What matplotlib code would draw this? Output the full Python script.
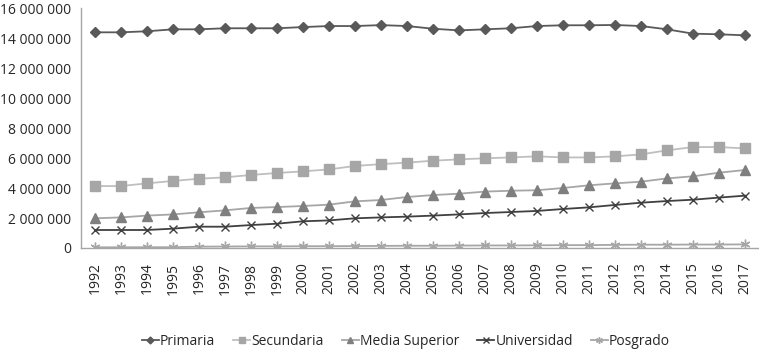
import matplotlib.pyplot as plt
import matplotlib.ticker as mticker
import numpy as np

plt.rcParams['font.family'] = ['Open Sans', 'DejaVu Sans']

years = list(range(1992, 2018))
primaria = [14.38, 14.38, 14.45, 14.58, 14.58, 14.65, 14.65, 14.65, 14.73, 14.80,
            14.80, 14.86, 14.80, 14.62, 14.51, 14.58, 14.65, 14.80, 14.85, 14.85,
            14.87, 14.80, 14.58, 14.29, 14.25, 14.18]
secundaria = [4.13, 4.13, 4.31, 4.47, 4.62, 4.71, 4.87, 5.00, 5.11, 5.24,
              5.47, 5.59, 5.69, 5.82, 5.91, 5.98, 6.04, 6.11, 6.04, 6.04,
              6.11, 6.24, 6.51, 6.73, 6.73, 6.64]
media_superior = [1.98, 2.04, 2.16, 2.24, 2.38, 2.51, 2.67, 2.73, 2.80, 2.89,
                  3.11, 3.20, 3.40, 3.53, 3.62, 3.76, 3.82, 3.85, 4.00, 4.18,
                  4.31, 4.42, 4.64, 4.78, 5.02, 5.20]
universidad = [1.20, 1.20, 1.20, 1.29, 1.42, 1.42, 1.53, 1.62, 1.78, 1.84,
               1.98, 2.04, 2.09, 2.16, 2.24, 2.33, 2.40, 2.47, 2.60, 2.71,
               2.87, 3.02, 3.13, 3.22, 3.36, 3.49]
posgrado = [0.045, 0.048, 0.050, 0.055, 0.09, 0.10, 0.11, 0.11, 0.12, 0.12,
            0.13, 0.14, 0.15, 0.15, 0.16, 0.17, 0.17, 0.18, 0.19, 0.19,
            0.21, 0.22, 0.22, 0.23, 0.23, 0.24]

series = [
    ("Primaria", primaria, '#595959', '#595959', 'D', 5),
    ("Secundaria", secundaria, '#bfbfbf', '#a6a6a6', 's', 6.5),
    ("Media Superior", media_superior, '#a6a6a6', '#7f7f7f', '^', 6.5),
    ("Universidad", universidad, '#404040', '#404040', 'x', 6),
    ("Posgrado", posgrado, '#a6a6a6', '#a6a6a6', (6, 2, 0), 7),
]

fig = plt.figure(figsize=(7.59, 3.49), dpi=100)
ax = fig.add_axes([0.1067, 0.2894, 0.8933, 0.6876])

x = np.arange(len(years))
for name, vals, lc, mc, mk, ms in series:
    ax.plot(x, np.array(vals) * 1e6, color=lc, lw=1.3, marker=mk, ms=ms,
            markerfacecolor=mc, markeredgecolor=mc, mew=1.0, label=name)

ax.set_xlim(-0.54, len(years) - 0.46)
ax.set_ylim(0, 16e6)
ax.set_yticks(np.arange(0, 16e6 + 1, 2e6))
ax.yaxis.set_major_formatter(mticker.FuncFormatter(
    lambda v, p: "{:,.0f}".format(v).replace(",", " ")))
ax.set_xticks(x)
ax.set_xticklabels([str(y) for y in years], rotation=90)
ax.tick_params(axis='both', length=0, labelsize=10, colors='#262626')
ax.tick_params(axis='y', pad=7)
ax.tick_params(axis='x', pad=10.5)

for s in ['top', 'right']:
    ax.spines[s].set_visible(False)
for s in ['left', 'bottom']:
    ax.spines[s].set_color('#a6a6a6')
    ax.spines[s].set_linewidth(1)

fig.legend(loc='center', bbox_to_anchor=(0.535, 0.022), ncol=5, frameon=False,
           fontsize=10, handlelength=1.2, handletextpad=0.1, columnspacing=1.3,
           markerscale=0.7, labelcolor='#262626')

fig.savefig("out.png")
